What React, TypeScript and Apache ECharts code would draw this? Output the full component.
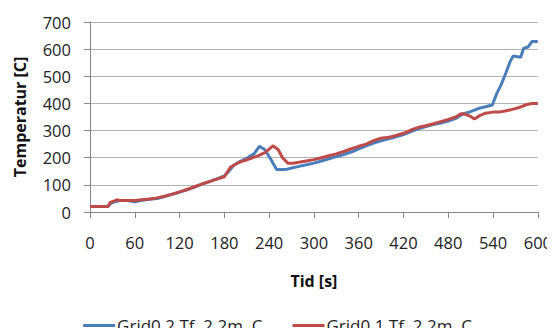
import React, { useEffect, useRef } from "react";
import * as echarts from "echarts";

// Grid0.2 — time [s] / temperature [C]
const grid02Time = [0, 10, 20, 24, 28, 33, 40, 50, 60, 70, 80, 90, 100, 110, 120, 130, 140, 150, 160, 170, 180, 186, 192, 200, 210, 220, 227, 234, 242, 250, 263, 270, 280, 290, 300, 310, 320, 330, 340, 350, 360, 370, 380, 390, 400, 410, 420, 430, 440, 450, 460, 470, 480, 490, 500, 508, 515, 521, 530, 539, 545, 551, 557, 563, 567, 577, 581, 587, 592, 600];
const grid02Temp = [20, 20, 20, 20, 32, 38, 42, 42, 38, 43, 47, 50, 57, 65, 73, 82, 92, 103, 112, 122, 133, 150, 170, 185, 198, 215, 242, 230, 195, 157, 157, 162, 168, 174, 180, 188, 196, 204, 212, 221, 233, 244, 254, 262, 270, 277, 285, 296, 306, 315, 322, 328, 335, 345, 362, 368, 375, 382, 388, 394, 437, 470, 511, 555, 575, 570, 603, 608, 628, 628];

// Grid0.1 — time [s] / temperature [C]
const grid01Time = [0, 24, 27, 32, 36, 40, 50, 60, 70, 80, 90, 100, 110, 120, 130, 140, 150, 160, 170, 180, 188, 196, 205, 215, 225, 235, 245, 252, 258, 265, 272, 280, 290, 300, 310, 320, 330, 340, 350, 360, 370, 380, 390, 400, 410, 420, 430, 440, 450, 460, 470, 480, 490, 497, 503, 510, 515, 522, 530, 540, 548, 556, 566, 575, 584, 592, 600];
const grid01Temp = [20, 20, 35, 40, 45, 42, 42, 42, 45, 48, 52, 58, 66, 74, 83, 93, 103, 112, 121, 130, 165, 178, 188, 197, 207, 220, 244, 230, 200, 180, 180, 183, 188, 193, 200, 207, 214, 223, 233, 242, 250, 263, 272, 275, 282, 290, 302, 312, 318, 325, 333, 341, 350, 362, 360, 352, 343, 355, 364, 368, 368, 372, 378, 385, 395, 400, 400];

const seriesNames = ["Grid0.2 Tf, 2.2m, C", "Grid0.1 Tf, 2.2m, C"];
const seriesColors = ["#4a7ebb", "#be4b48"];

const zip = (xs: number[], ys: number[]) => xs.map((x, i) => [x, ys[i]]);

const FONT = "'Open Sans', 'Noto Sans', sans-serif";

export default function App() {
  const ref = useRef<HTMLDivElement>(null);

  useEffect(() => {
    if (!ref.current) return;
    const chart = echarts.init(ref.current, null, { renderer: "svg" });
    chart.setOption({
      animation: false,
      backgroundColor: "#ffffff",
      grid: { left: 90, right: 16, top: 22, bottom: 124, containLabel: false },
      legend: {
        top: 316,
        left: "center",
        padding: 0,
        icon: "rect",
        itemWidth: 32,
        itemHeight: 3,
        itemGap: 30,
        textStyle: { fontFamily: FONT, fontSize: 17, lineHeight: 19, color: "#222", padding: [0, 0, 0, -3] },
        data: seriesNames,
      },
      xAxis: {
        type: "value",
        min: 0,
        max: 600,
        interval: 60,
        name: "Tid [s]",
        nameLocation: "middle",
        nameGap: 61,
        nameTextStyle: { fontFamily: FONT, fontSize: 16, fontWeight: "bold", color: "#111" },
        axisLine: { show: true, lineStyle: { color: "#868686", width: 1 } },
        axisTick: { show: true, inside: false, length: 6, lineStyle: { color: "#868686" } },
        axisLabel: { margin: 22, fontFamily: FONT, fontSize: 16.5, color: "#222" },
        splitLine: { show: false },
      },
      yAxis: {
        type: "value",
        min: 0,
        max: 700,
        interval: 100,
        name: "Temperatur [C]",
        nameLocation: "middle",
        nameRotate: 90,
        nameGap: 62,
        nameTextStyle: { fontFamily: FONT, fontSize: 16, fontWeight: "bold", color: "#111" },
        axisLine: { show: true, lineStyle: { color: "#868686", width: 1 } },
        axisTick: { show: true, inside: false, length: 6, lineStyle: { color: "#868686" } },
        axisLabel: { margin: 19, fontFamily: FONT, fontSize: 16.5, color: "#222" },
        splitLine: { show: true, lineStyle: { color: "#b3b3b3", width: 1 } },
      },
      series: [
        {
          name: seriesNames[0],
          type: "line",
          data: zip(grid02Time, grid02Temp),
          showSymbol: false,
          symbol: "none",
          lineStyle: { color: seriesColors[0], width: 3 },
          itemStyle: { color: seriesColors[0] },
          z: 2,
        },
        {
          name: seriesNames[1],
          type: "line",
          data: zip(grid01Time, grid01Temp),
          showSymbol: false,
          symbol: "none",
          lineStyle: { color: seriesColors[1], width: 3 },
          itemStyle: { color: seriesColors[1] },
          z: 3,
        },
      ],
    });
    return () => chart.dispose();
  }, []);

  return <div ref={ref} style={{ width: 555, height: 336, margin: -8 }} />;
}
